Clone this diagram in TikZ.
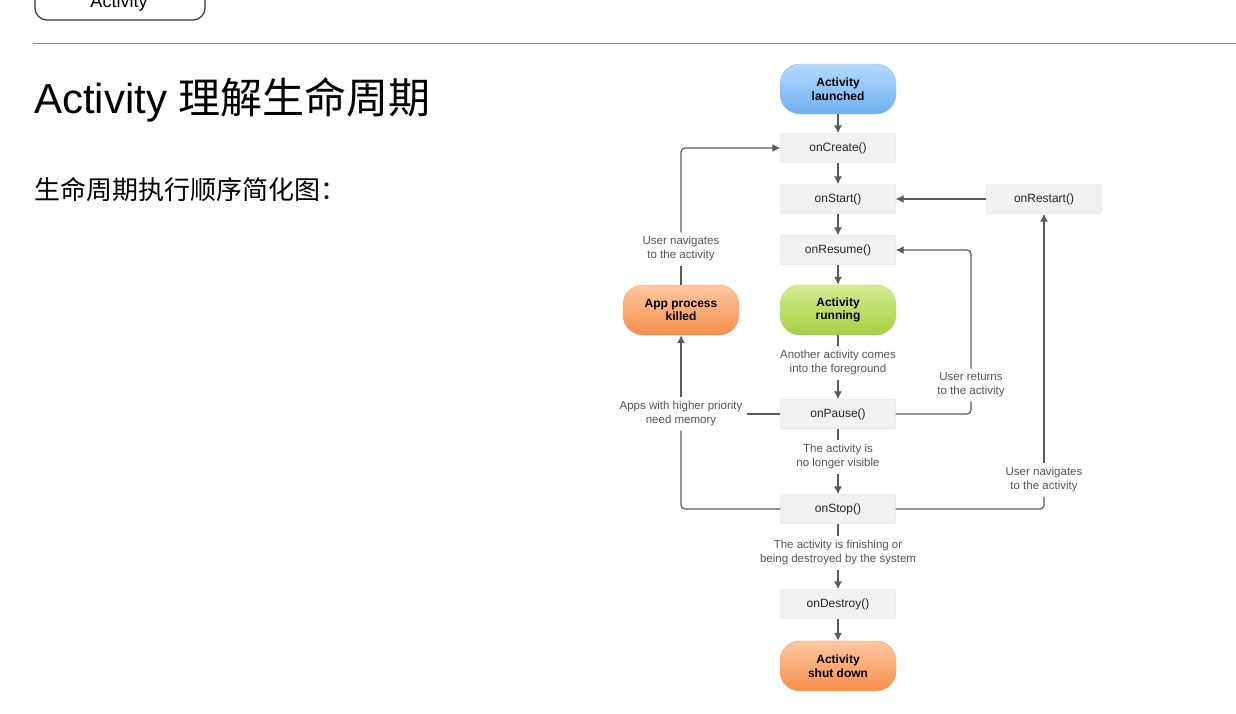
\documentclass[tikz,border=0pt]{standalone}
\usepackage{fontspec}
\setmainfont{Liberation Sans}
\newfontfamily\cjk{Noto Sans CJK SC}
\usetikzlibrary{arrows.meta,positioning}

\definecolor{boxfill}{HTML}{F1F1F1}
\definecolor{boxline}{HTML}{D6D6D6}
\definecolor{linecol}{HTML}{5A5A5A}
\definecolor{labeltext}{HTML}{555555}
\definecolor{bluetop}{HTML}{B4DAFB}
\definecolor{bluebot}{HTML}{6EB0F1}
\definecolor{blueline}{HTML}{8DC0EE}
\definecolor{greentop}{HTML}{D5EC92}
\definecolor{greenbot}{HTML}{A3CF40}
\definecolor{greenline}{HTML}{B7D66E}
\definecolor{orangetop}{HTML}{FFC8A0}
\definecolor{orangebot}{HTML}{F58E4A}
\definecolor{orangeline}{HTML}{F0A070}

\tikzset{
	cb/.style={draw=boxline,fill=boxfill,rounded corners=2pt,minimum width=115pt,minimum height=29pt,inner sep=0pt,text=black!85,font=\fontsize{12}{14}\selectfont},
	pill/.style={draw=#1line,top color=#1top,bottom color=#1bot,rounded corners=20pt,minimum width=116pt,minimum height=50pt,inner sep=0pt,align=center,font=\bfseries\fontsize{12}{13.5}\selectfont},
	lbl/.style={text=labeltext,align=center,inner sep=4pt,font=\fontsize{11.5}{14}\selectfont},
	link/.style={draw=linecol,line width=1.2pt,rounded corners=4pt},
	arr/.style={link,-{Latex[length=8pt,width=8pt]}},
}

\begin{document}
\begin{tikzpicture}[x=1pt,y=-1pt]
	\useasboundingbox (0,0) rectangle (1236,713);
	\clip (0,0) rectangle (1236,713);
	% page header
	\draw[line width=1.2pt,black!80,rounded corners=12pt] (35,-20) rectangle (205,20);
	\node[anchor=base,font=\fontsize{18}{20}\selectfont] (tab) at (119,7) {Activity};
	\draw[line width=1pt,black!45] (33,43) -- (1236,43);
	\node[anchor=base west,inner sep=0pt,font=\fontsize{42}{46}\selectfont] (title) at (34,113) {Activity {\cjk 理解生命周期}};
	\node[anchor=west,inner sep=0pt,font=\cjk\fontsize{26}{30}\selectfont] (sub) at (34,190) {生命周期执行顺序简化图：};

	% lifecycle chart
	\node[pill=blue] (launched) at (838,89) {Activity\\launched};
	\node[cb] (onCreate) at (838,148) {onCreate()};
	\node[cb] (onStart) at (838,199) {onStart()};
	\node[cb] (onResume) at (838,250) {onResume()};
	\node[pill=green] (running) at (838,310) {Activity\\running};
	\node[lbl] (fore) at (838,363) {Another activity comes\\into the foreground};
	\node[cb] (onPause) at (838,414) {onPause()};
	\node[lbl] (hidden) at (838,457) {The activity is\\no longer visible};
	\node[cb] (onStop) at (838,509) {onStop()};
	\node[lbl] (finish) at (838,553) {The activity is finishing or\\being destroyed by the system};
	\node[cb] (onDestroy) at (838,604) {onDestroy()};
	\node[pill=orange] (shut) at (838,666) {Activity\\shut down};
	\node[cb] (onRestart) at (1044,199) {onRestart()};
	\node[pill=orange] (killed) at (681,310) {App process\\killed};
	\node[lbl] (navL) at (681,249) {User navigates\\to the activity};
	\node[lbl] (mem) at (681,414) {Apps with higher priority\\need memory};
	\node[lbl] (back) at (971,385) {User returns\\to the activity};
	\node[lbl] (navR) at (1044,480) {User navigates\\to the activity};

	% main column
	\draw[arr] (launched) -- (onCreate);
	\draw[arr] (onCreate) -- (onStart);
	\draw[arr] (onStart) -- (onResume);
	\draw[arr] (onResume) -- (running);
	\draw[link] (running) -- (fore);
	\draw[arr] (fore) -- (onPause);
	\draw[link] (onPause) -- (hidden);
	\draw[arr] (hidden) -- (onStop);
	\draw[link] (onStop) -- (finish);
	\draw[arr] (finish) -- (onDestroy);
	\draw[arr] (onDestroy) -- (shut);
	% loops back
	\draw[arr] (onRestart) -- (onStart);
	\draw[link] (onPause.east) -- (onPause.east -| back) -- (back);
	\draw[arr] (back) -- (back |- onResume) -- (onResume.east);
	\draw[link] (onStop.east) -- (onStop.east -| navR) -- (navR);
	\draw[arr] (navR) -- (onRestart);
	\draw[link] (onStop.west) -- (onStop.west -| mem) -- (mem);
	\draw[link] (onPause) -- (mem);
	\draw[arr] (mem) -- (killed);
	\draw[link] (killed) -- (navL);
	\draw[arr] (navL) -- (navL |- onCreate) -- (onCreate.west);
\end{tikzpicture}
\end{document}
